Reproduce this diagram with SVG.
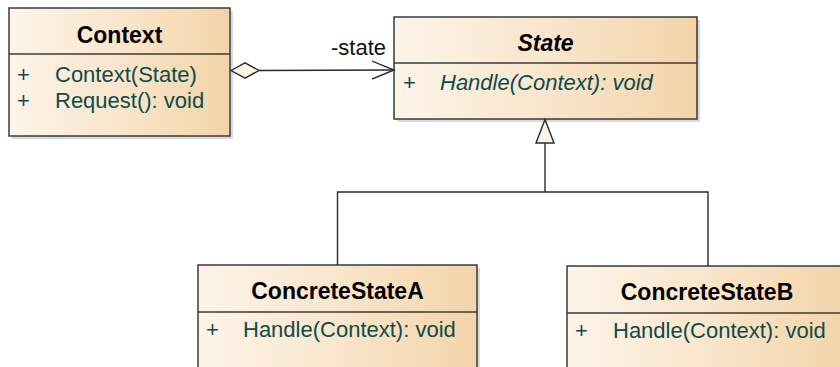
<svg xmlns="http://www.w3.org/2000/svg" width="840" height="367" viewBox="0 0 840 367">
  <defs>
    <linearGradient id="fill" x1="0" y1="0" x2="1" y2="0">
      <stop offset="0" stop-color="#fdf4e8"/>
      <stop offset="0.5" stop-color="#f9e6cc"/>
      <stop offset="1" stop-color="#f3d4a8"/>
    </linearGradient>
    <marker id="open" markerWidth="24" markerHeight="20" refX="22" refY="10" orient="auto" markerUnits="userSpaceOnUse">
      <path d="M0,1 L22,10 L0,19" fill="none" stroke="#2b2b2b" stroke-width="1.4"/>
    </marker>
  </defs>
  <style>
    .shadow { fill: #d3dbe8; }
    .box { fill: url(#fill); stroke: #3a3a3a; stroke-width: 1.5; }
    .sep { stroke: #3a3a3a; stroke-width: 1.5; }
    .title { font-family: "Liberation Sans", Arial, sans-serif; font-size: 23px; font-weight: bold; fill: #000; text-anchor: middle; }
    .member { font-family: "Liberation Sans", Arial, sans-serif; font-size: 22px; fill: #0f4b4b; }
    .abstract { font-style: italic; }
    .link { fill: none; stroke: #2b2b2b; stroke-width: 1.4; }
    .label { font-family: "Liberation Sans", Arial, sans-serif; font-size: 22px; fill: #111; }
  </style>
  <rect width="840" height="367" fill="#fff"/>

  <!-- Context -->
  <g id="context">
    <rect class="shadow" x="12" y="11" width="221" height="128"/>
    <rect class="box" x="9" y="8" width="221" height="128"/>
    <line class="sep" x1="9" y1="54" x2="230" y2="54"/>
    <text class="title" x="119.5" y="43">Context</text>
    <text class="member" x="17" y="82">+</text>
    <text class="member" x="55" y="82">Context(State)</text>
    <text class="member" x="17" y="108">+</text>
    <text class="member" x="55" y="108">Request(): void</text>
  </g>

  <!-- State (abstract) -->
  <g id="state">
    <rect class="shadow" x="397" y="20" width="303" height="102"/>
    <rect class="box" x="394" y="17" width="303" height="102"/>
    <line class="sep" x1="394" y1="63" x2="697" y2="63"/>
    <text class="title abstract" x="545.5" y="51">State</text>
    <text class="member" x="403" y="90">+</text>
    <text class="member abstract" x="440" y="90">Handle(Context): void</text>
  </g>

  <!-- ConcreteStateA -->
  <g id="concrete-state-a">
    <rect class="shadow" x="201" y="268" width="279" height="110"/>
    <rect class="box" x="198" y="265" width="279" height="110"/>
    <line class="sep" x1="198" y1="312" x2="477" y2="312"/>
    <text class="title" x="337.5" y="299">ConcreteStateA</text>
    <text class="member" x="206" y="337">+</text>
    <text class="member" x="243" y="337">Handle(Context): void</text>
  </g>

  <!-- ConcreteStateB -->
  <g id="concrete-state-b">
    <rect class="shadow" x="570" y="269" width="280" height="110"/>
    <rect class="box" x="567" y="266" width="280" height="110"/>
    <line class="sep" x1="567" y1="313" x2="847" y2="313"/>
    <text class="title" x="707" y="300">ConcreteStateB</text>
    <text class="member" x="575" y="338">+</text>
    <text class="member" x="613" y="338">Handle(Context): void</text>
  </g>

  <!-- Connectors -->
  <g id="connectors">
    <!-- aggregation Context -> State -->
    <line class="link" x1="259" y1="70.5" x2="394" y2="70" marker-end="url(#open)"/>
    <path d="M231,70.5 L245,62.8 L259,70.5 L245,78.2 Z" fill="#fdf3e6" stroke="#2b2b2b" stroke-width="1.4"/>
    <text class="label" x="331" y="55">-state</text>
    <!-- generalization to State -->
    <polyline class="link" points="337.5,265 337.5,192 708,192 708,266"/>
    <line class="link" x1="545" y1="143" x2="545" y2="192"/>
    <path d="M545,119.5 L554,143 L536,143 Z" fill="#fdf3e6" stroke="#2b2b2b" stroke-width="1.4"/>
  </g>
</svg>
